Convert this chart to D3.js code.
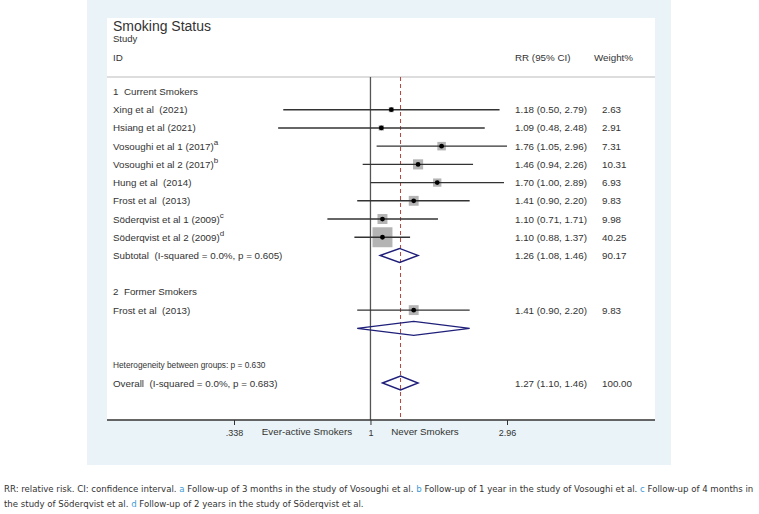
<!DOCTYPE html>
<html lang="en">
<head>
<meta charset="UTF-8"/>
<title>Forest plot</title>
<script src="https://d3js.org/d3.v7.min.js"></script>
<style>
	body { margin: 0; background: #fff; }
	text { font-family: "Liberation Sans", Arial, sans-serif; fill: #333; white-space: pre; }
	.lbl { font-size: 9.8px; }
	.ci { stroke: #333; stroke-width: 1.4px; }
	.box { fill: #b4b4b4; }
	.diamond { fill: none; stroke: #1f1f7a; stroke-width: 1.4px; }
	.foot { font-family: "Liberation Sans Narrow", "DejaVu Sans Condensed", sans-serif; font-size: 10.5px; fill: #333; }
	.foot .mark { fill: #3d9bd6; }
</style>
</head>
<body>
<div id="chart"></div>
<script>
// group 1: current smokers
var currentStudies = ["Xing et al  (2021)", "Hsiang et al (2021)", "Vosoughi et al 1 (2017)", "Vosoughi et al 2 (2017)",
	"Hung et al  (2014)", "Frost et al  (2013)", "Söderqvist et al 1 (2009)", "Söderqvist et al 2 (2009)"];
var currentSup = ["", "", "a", "b", "", "", "c", "d"];
var currentRR = [1.18, 1.09, 1.76, 1.46, 1.70, 1.41, 1.10, 1.10];
var currentLo = [0.50, 0.48, 1.05, 0.94, 1.00, 0.90, 0.71, 0.88];
var currentHi = [2.79, 2.48, 2.96, 2.26, 2.89, 2.20, 1.71, 1.37];
var currentWeight = [2.63, 2.91, 7.31, 10.31, 6.93, 9.83, 9.98, 40.25];
var subtotalCurrent = [1.26, 1.08, 1.46, 90.17];

// group 2: former smokers
var formerStudies = ["Frost et al  (2013)"];
var formerRR = [1.41];
var formerLo = [0.90];
var formerHi = [2.20];
var formerWeight = [9.83];
var subtotalFormer = [1.41, 0.90, 2.20];

var overall = [1.27, 1.10, 1.46, 100.00];

var xTicks = [0.338, 1, 2.96];
var xTickLabels = [".338", "1", "2.96"];

var w = 759, h = 514;
var panel = { x: 87, y: 0, w: 584, h: 465 };
var plot = { left: 107, right: 655, top: 18, sep: 77, axis: 420 };

var svg = d3.select("#chart").append("svg")
	.attr("width", w)
	.attr("height", h);

svg.append("rect")
	.attr("x", panel.x).attr("y", panel.y)
	.attr("width", panel.w).attr("height", panel.h)
	.attr("fill", "#eaf3f7");

svg.append("rect")
	.attr("x", plot.left).attr("y", plot.top)
	.attr("width", plot.right - plot.left).attr("height", plot.axis - plot.top)
	.attr("fill", "#fff");

var xScale = d3.scaleLog()
	.domain([0.338, 2.96])
	.range([234, 507]);

var yScale = d3.scaleLinear()
	.domain([0, 16])
	.range([91.5, 383]);

var fmt = d3.format(".2f");
var labelX = 113, valueX = 515, weightX = 602;

// header
svg.append("text").attr("x", labelX).attr("y", 31).style("font-size", "14px").text("Smoking Status");
svg.append("text").attr("x", labelX).attr("y", 41.5).style("font-size", "9.5px").text("Study");
svg.append("text").attr("class", "lbl").attr("x", labelX).attr("y", 61).text("ID");
svg.append("text").attr("class", "lbl").attr("x", valueX).attr("y", 61).text("RR (95% CI)");
svg.append("text").attr("class", "lbl").attr("x", 594).attr("y", 61).text("Weight%");

svg.append("line")
	.attr("x1", plot.left).attr("x2", plot.right)
	.attr("y1", plot.sep).attr("y2", plot.sep)
	.attr("stroke", "#bbb").attr("stroke-width", 1);

// reference lines
svg.append("line")
	.attr("x1", xScale(1)).attr("x2", xScale(1))
	.attr("y1", plot.sep).attr("y2", plot.axis)
	.attr("stroke", "#555").attr("stroke-width", 1.3);

svg.append("line")
	.attr("x1", xScale(overall[0])).attr("x2", xScale(overall[0]))
	.attr("y1", plot.sep).attr("y2", plot.axis)
	.attr("stroke", "#b5443f").attr("stroke-width", 1)
	.attr("stroke-dasharray", "4,3");

function rowText(i, label, sup, cls) {
	var t = svg.append("text").attr("class", cls || "lbl")
		.attr("x", labelX).attr("y", yScale(i) + 3.5)
		.text(label);
	if (sup) {
		t.append("tspan").attr("dy", -5).style("font-size", "8px").text(sup);
	}
}

function valueText(i, est, lo, hi, wt) {
	svg.append("text").attr("class", "lbl")
		.attr("x", valueX).attr("y", yScale(i) + 3.5)
		.text(fmt(est) + " (" + fmt(lo) + ", " + fmt(hi) + ")");
	svg.append("text").attr("class", "lbl")
		.attr("x", weightX).attr("y", yScale(i) + 3.5)
		.text(fmt(wt));
}

function study(i, est, lo, hi, wt) {
	var y = yScale(i);
	var side = 3.15 * Math.sqrt(wt);
	svg.append("rect").attr("class", "box")
		.attr("x", xScale(est) - side / 2).attr("y", y - side / 2)
		.attr("width", side).attr("height", side);
	svg.append("line").attr("class", "ci")
		.attr("x1", xScale(lo)).attr("x2", xScale(hi))
		.attr("y1", y).attr("y2", y);
	svg.append("circle")
		.attr("cx", xScale(est)).attr("cy", y).attr("r", 2.4)
		.attr("fill", "#000");
}

function diamond(i, est, lo, hi) {
	var y = yScale(i);
	var pts = [[xScale(lo), y], [xScale(est), y - 7], [xScale(hi), y], [xScale(est), y + 7]];
	svg.append("path").attr("class", "diamond")
		.attr("d", d3.line()(pts) + "Z");
}

// group 1
rowText(0, "1  Current Smokers");
currentStudies.forEach(function(s, k) {
	var i = k + 1;
	rowText(i, s, currentSup[k]);
	study(i, currentRR[k], currentLo[k], currentHi[k], currentWeight[k]);
	valueText(i, currentRR[k], currentLo[k], currentHi[k], currentWeight[k]);
});
rowText(9, "Subtotal  (I-squared = 0.0%, p = 0.605)");
diamond(9, subtotalCurrent[0], subtotalCurrent[1], subtotalCurrent[2]);
valueText(9, subtotalCurrent[0], subtotalCurrent[1], subtotalCurrent[2], subtotalCurrent[3]);

// group 2
rowText(11, "2  Former Smokers");
formerStudies.forEach(function(s, k) {
	var i = k + 12;
	rowText(i, s, "");
	study(i, formerRR[k], formerLo[k], formerHi[k], formerWeight[k]);
	valueText(i, formerRR[k], formerLo[k], formerHi[k], formerWeight[k]);
});
diamond(13, subtotalFormer[0], subtotalFormer[1], subtotalFormer[2]);

// overall
svg.append("text").attr("x", labelX).attr("y", yScale(15) + 3)
	.style("font-size", "8.3px").text("Heterogeneity between groups: p = 0.630");
rowText(16, "Overall  (I-squared = 0.0%, p = 0.683)");
diamond(16, overall[0], overall[1], overall[2]);
valueText(16, overall[0], overall[1], overall[2], overall[3]);

// axis
svg.append("line")
	.attr("x1", plot.left).attr("x2", plot.right)
	.attr("y1", plot.axis).attr("y2", plot.axis)
	.attr("stroke", "#333").attr("stroke-width", 1.3);

var xAxis = d3.axisBottom(xScale)
	.tickValues(xTicks)
	.tickSize(5)
	.tickFormat(function(d, i) { return xTickLabels[i]; });

var ax = svg.append("g")
	.attr("transform", "translate(0," + plot.axis + ")")
	.call(xAxis);
ax.select(".domain").remove();
ax.selectAll("line").attr("stroke", "#333");
ax.selectAll("text").attr("dy", "0.9em")
	.style("font-family", "Liberation Sans, Arial, sans-serif")
	.style("font-size", "9px").attr("fill", "#333");

svg.append("text").attr("class", "lbl").attr("text-anchor", "middle")
	.attr("x", 307).attr("y", 435).text("Ever-active Smokers");
svg.append("text").attr("class", "lbl").attr("text-anchor", "middle")
	.attr("x", 425).attr("y", 435).text("Never Smokers");

// footnote, sized so that the first line spans the page width
var f1 = svg.append("text").attr("class", "foot").attr("x", 4).attr("y", 492);
f1.append("tspan").text("RR: relative risk. CI: confidence interval. ");
f1.append("tspan").attr("class", "mark").text("a");
f1.append("tspan").text(" Follow-up of 3 months in the study of Vosoughi et al. ");
f1.append("tspan").attr("class", "mark").text("b");
f1.append("tspan").text(" Follow-up of 1 year in the study of Vosoughi et al. ");
f1.append("tspan").attr("class", "mark").text("c");
f1.append("tspan").text(" Follow-up of 4 months in");

var f2 = svg.append("text").attr("class", "foot").attr("x", 4).attr("y", 507);
f2.append("tspan").text("the study of Söderqvist et al. ");
f2.append("tspan").attr("class", "mark").text("d");
f2.append("tspan").text(" Follow-up of 2 years in the study of Söderqvist et al.");

var len = f1.node().getComputedTextLength();
var fs = 10.5 * 751 / len;
f1.style("font-size", fs + "px");
f2.style("font-size", fs + "px");
</script>
</body>
</html>
